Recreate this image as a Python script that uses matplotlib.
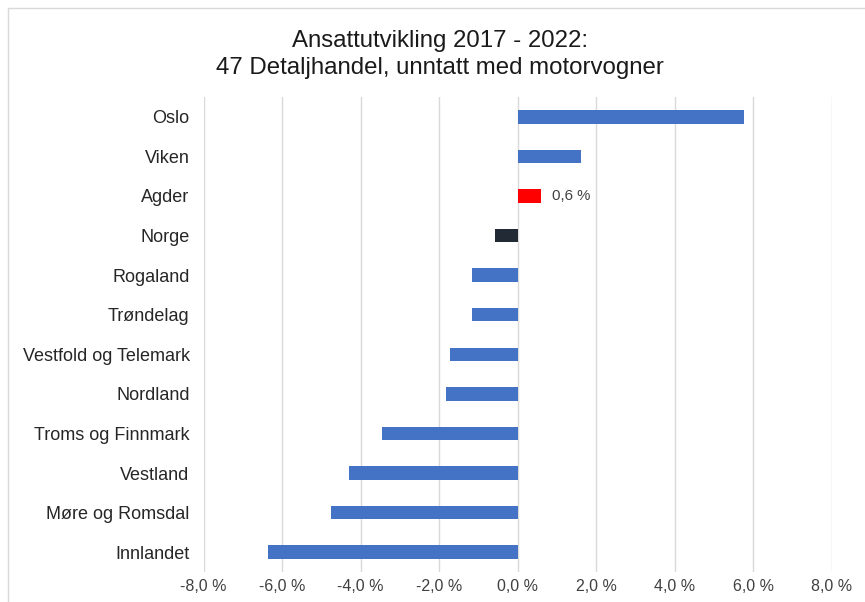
import matplotlib.pyplot as plt
from matplotlib.ticker import FuncFormatter, MultipleLocator
from matplotlib.patches import Rectangle

plt.rcParams['font.family'] = ['Liberation Sans', 'DejaVu Sans']

# regions from top to bottom, change in employment 2017-2022 (%)
regions = ['Oslo', 'Viken', 'Agder', 'Norge', 'Rogaland', 'Trøndelag',
           'Vestfold og Telemark', 'Nordland', 'Troms og Finnmark',
           'Vestland', 'Møre og Romsdal', 'Innlandet']
change = [5.77, 1.62, 0.6, -0.58, -1.17, -1.17, -1.72, -1.82, -3.45,
          -4.29, -4.76, -6.35]
colors = ['#4472C4', '#4472C4', '#FF0000', '#222A35'] + ['#4472C4'] * 8

fig = plt.figure(figsize=(8.65, 6.02), dpi=100)
ax = fig.add_axes([0.2353, 0.0498, 0.7265, 0.7891])

# light frame around the chart area
fig.patches.append(Rectangle((8 / 865, -0.1), 1.2, 1 - 8 / 602 + 0.1,
                             transform=fig.transFigure, fill=False,
                             edgecolor='#D9D9D9', linewidth=1))

ypos = list(range(len(regions)))
ax.barh(ypos, change, height=0.34, color=colors, zorder=3)
ax.set_yticks(ypos)
ax.set_yticklabels(regions, fontsize=13, color='#262626')
ax.set_ylim(len(regions) - 0.5, -0.5)

ax.set_xlim(-8, 8)
ax.xaxis.set_major_locator(MultipleLocator(2))
ax.xaxis.set_major_formatter(FuncFormatter(lambda v, p: f"{v:.1f}".replace('.', ',') + " %"))
ax.tick_params(axis='x', labelsize=11.5, colors='#404040', length=0, pad=5)
ax.tick_params(axis='y', length=0, pad=10)
ax.grid(axis='x', color='#D9D9D9', linewidth=1, zorder=0)
for s in ax.spines.values():
    s.set_visible(False)

# data label for Agder
i = regions.index('Agder')
ax.text(change[i] + 0.28, i, f"{change[i]:.1f}".replace('.', ',') + " %",
        va='center', ha='left', fontsize=10.8, color='#404040')

fig.text(0.509, 0.909, "Ansattutvikling 2017 - 2022:\n47 Detaljhandel, unntatt med motorvogner",
         ha='center', va='center', fontsize=17.3, color='#1a1a1a', linespacing=1.3)

plt.savefig('out.png', dpi=100)
